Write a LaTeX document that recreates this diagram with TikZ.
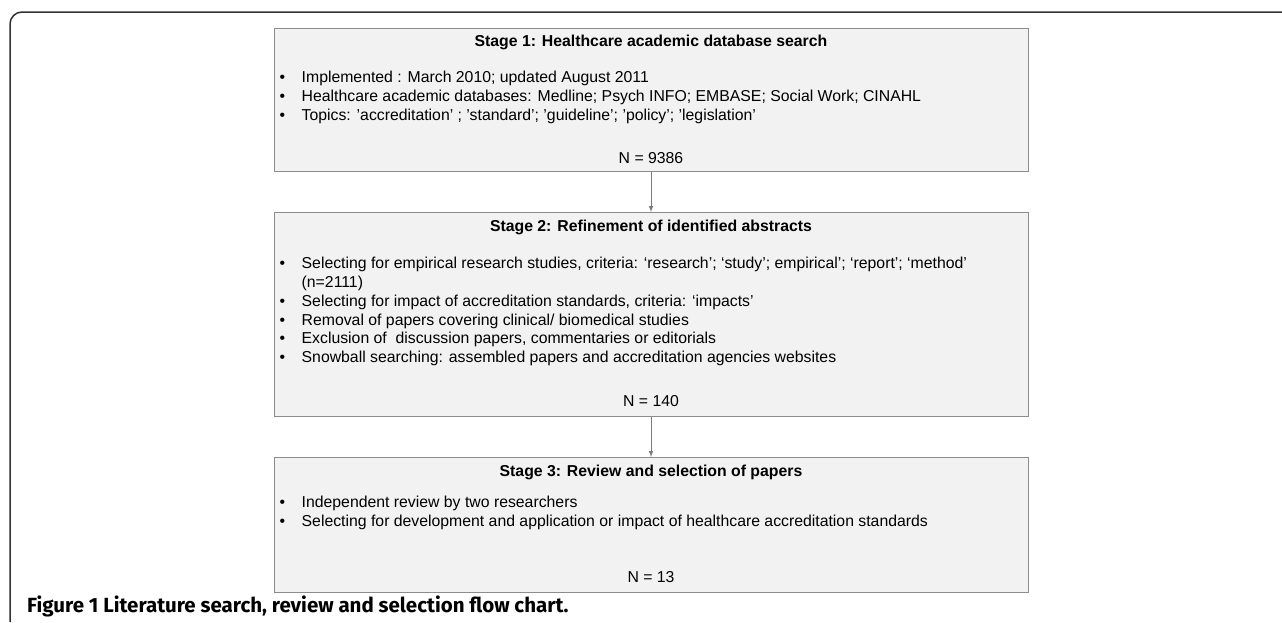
\documentclass[tikz,border=0pt]{standalone}
\usepackage{fontspec}
\setmainfont{Liberation Sans}
\newfontfamily\figcapfont{Fira Sans}
\usetikzlibrary{positioning, arrows}

\definecolor{boxfill}{HTML}{F2F2F2}
\definecolor{boxline}{HTML}{8C8C8C}
\definecolor{flowline}{HTML}{7A7A7A}
\definecolor{framecol}{HTML}{333333}

\tikzset{
  stagebox/.style={draw=boxline, fill=boxfill, line width=1pt, minimum width=754pt, inner sep=0pt, anchor=north},
  stagetitle/.style={font=\fontsize{15.8}{18.8}\selectfont\bfseries, inner sep=0pt},
  stagelist/.style={font=\fontsize{15.8}{18.8}\selectfont, align=left, inner sep=0pt, anchor=north west},
  stagecount/.style={font=\fontsize{15.8}{18.8}\selectfont, inner sep=0pt},
  flow/.style={->, >=latex, draw=flowline, line width=1pt}
}
\newcommand{\stagebullet}{\makebox[23pt][l]{\hspace{1pt}•}}

\begin{document}
\begin{tikzpicture}[x=1pt, y=-1pt]
      \useasboundingbox (0,0) rectangle (1282,622);
      % outer frame
      \draw[framecol, line width=1.5pt, rounded corners=12pt] (10,622) -- (10,12) -- (1282,12);

      % stage 1
      \node[stagebox, minimum height=143pt] (s1) at (651,28) {};
      \node[stagetitle] (s1title) at ([yshift=-14pt]s1.north) {Stage 1: Healthcare academic database search};
      \node[stagelist] (s1list) at ([xshift=5pt, yshift=-43pt]s1.north west) {%
        \stagebullet Implemented : March 2010; updated August 2011\\
        \stagebullet Healthcare academic databases: Medline; Psych INFO; EMBASE; Social Work; CINAHL\\
        \stagebullet Topics: 'accreditation' ; 'standard'; 'guideline'; 'policy'; 'legislation'};
      \node[stagecount] (s1n) at ([yshift=14pt]s1.south) {N = 9386};

      % stage 2
      \node[stagebox, minimum height=204pt] (s2) at (651,212) {};
      \node[stagetitle] (s2title) at ([yshift=-15pt]s2.north) {Stage 2: Refinement of identified abstracts};
      \node[stagelist] (s2list) at ([xshift=5pt, yshift=-45pt]s2.north west) {%
        \stagebullet Selecting for empirical research studies, criteria: ‘research’; ‘study’; empirical’; ‘report’; ‘method’\\
        \hspace*{23pt}(n=2111)\\
        \stagebullet Selecting for impact of accreditation standards, criteria: ‘impacts’\\
        \stagebullet Removal of papers covering clinical/ biomedical studies\\
        \stagebullet Exclusion of\ \ discussion papers, commentaries or editorials\\
        \stagebullet Snowball searching: assembled papers and accreditation agencies websites};
      \node[stagecount] (s2n) at ([yshift=16pt]s2.south) {N = 140};

      % stage 3
      \node[stagebox, minimum height=135pt] (s3) at (651,457) {};
      \node[stagetitle] (s3title) at ([yshift=-15pt]s3.north) {Stage 3: Review and selection of papers};
      \node[stagelist] (s3list) at ([xshift=5pt, yshift=-39pt]s3.north west) {%
        \stagebullet Independent review by two researchers\\
        \stagebullet Selecting for development and application or impact of healthcare accreditation standards};
      \node[stagecount] (s3n) at ([yshift=16pt]s3.south) {N = 13};

      \draw[flow] (s1) -- (s2);
      \draw[flow] (s2) -- (s3);

      % caption
      \node[anchor=west, inner sep=0pt, font=\figcapfont\fontsize{20.5}{23}\selectfont\bfseries] (figcap) at (27,606) {Figure 1 Literature search, review and selection flow chart.};
\end{tikzpicture}
\end{document}
